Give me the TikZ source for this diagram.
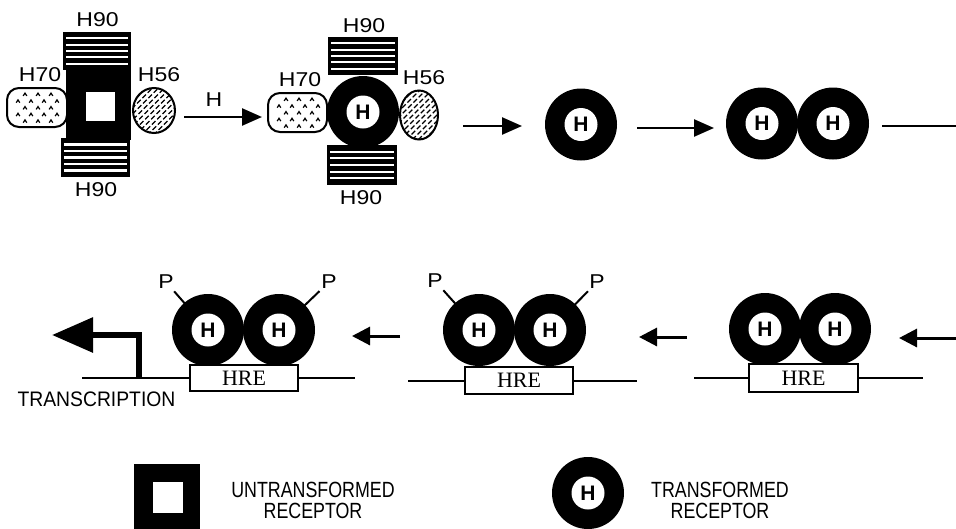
\documentclass[tikz,border=0pt]{standalone}
\usepackage{fontspec}
\setmainfont{Liberation Serif}
\setsansfont{Liberation Sans}
\usetikzlibrary{arrows.meta,shapes.geometric,calc}
\begin{document}
\begin{tikzpicture}[x=1pt,y=-1pt,
  lab/.style={font=\sffamily\fontsize{20}{20}\selectfont, inner sep=0pt, xscale=1.15},
  legtext/.style={font=\sffamily\fontsize{22}{21}\selectfont, inner sep=0pt, align=center, xscale=.81},
  h90/.style={rectangle, fill=black, inner sep=0pt, outer sep=0pt,
    path picture={\foreach \k in {1,...,5}{
      \draw[white,line width=2.2pt]
       ($(path picture bounding box.north west)!\k/6!(path picture bounding box.south west)+(3,0)$)
       -- ($(path picture bounding box.north east)!\k/6!(path picture bounding box.south east)+(-3,0)$);}}},
  h70/.style={rectangle, rounded corners=12pt, draw, line width=2pt, fill=white, inner sep=0pt,
    path picture={\foreach \px/\py in {18/6.5,31/6.5,44/6.5,11/13.3,24/13.3,37/13.3,50/13.3,
        18/20,31/20,44/20,11/26.7,24/26.7,37/26.7,50/26.7,18/33.3,31/33.3,44/33.3}{
      \draw[sharp corners, line width=1.2pt] ([shift={(\px,\py)}]path picture bounding box.north west)
        ++(-1.8,1.4) -- ++(1.8,-2.8) -- ++(1.8,2.8);}}},
  h56/.style={ellipse, draw, line width=2pt, fill=white, inner sep=0pt,
    path picture={\foreach \i in {-66,-60,...,66}{
      \draw[line width=1.3pt, dash pattern=on 5pt off 2.5pt]
        ([shift={(\i-30,30)}]path picture bounding box.center) -- ++(60,-60);}}},
  core/.style={rectangle, fill=black, inner sep=0pt, outer sep=0pt},
  hole/.style={rectangle, fill=white, inner sep=0pt, outer sep=0pt},
  rec/.style={circle, fill=black, minimum size=72pt, inner sep=0pt, outer sep=0pt,
    font=\sffamily\bfseries\fontsize{21}{21}\selectfont,
    path picture={\fill[white] (path picture bounding box.center) circle[radius=16.5pt];}},
  hre/.style={rectangle, draw, line width=2pt, fill=white, inner sep=0pt,
    font=\fontsize{22}{22}\selectfont},
  arrT/.style={line width=2.5pt, -{Triangle[length=20pt,width=17pt]}},
  arrB/.style={line width=3pt, -{Triangle[length=18pt,width=18pt]}},
  dna/.style={line width=2pt},
  tick/.style={line width=2pt, shorten <=3pt},
  trans/.style={line width=6pt, line join=miter, -{Triangle[length=41pt,width=34pt]}}
]
\useasboundingbox (0,0) rectangle (956,528);
\clip (0,0) rectangle (956,528);

% ---------- complex 1 (untransformed) ----------
\node[h70, minimum width=60, minimum height=39] (h70a) at (37,107.5) {};
\node[h56, minimum width=42, minimum height=45] (h56a) at (154,110.5) {};
\node[h90, minimum width=68, minimum height=38] (h90ta) at (97,51) {};
\node[h90, minimum width=69, minimum height=39] (h90ba) at (95.5,157.5) {};
\node[core, minimum width=65, minimum height=70] (core1) at (98.5,105) {};
\node[hole, minimum width=29, minimum height=29] (core1in) at (100.5,106.5) {};
\node[lab] (l90ta) at (97.5,20) {H90};
\node[lab] (l90ba) at (96,190) {H90};
\node[lab] (l70a) at (40,75) {H70};
\node[lab] (l56a) at (159,75) {H56};

% arrow with H
\coordinate (a1s) at (184,117);
\coordinate (a1e) at (262,117);
\draw[arrT] (a1s) -- (a1e);
\node[lab] (a1lab) at (214,100) {H};

% ---------- complex 2 ----------
\node[h70, minimum width=59, minimum height=39] (h70b) at (297.5,112.5) {};
\node[h56, minimum width=38, minimum height=49] (h56b) at (419,115) {};
\node[h90, minimum width=70, minimum height=38] (h90tb) at (363,56) {};
\node[h90, minimum width=70, minimum height=40] (h90bb) at (362,165) {};
\node[rec] (rb) at (363,112) {H};
\node[lab] (l90tb) at (364,26) {H90};
\node[lab] (l90bb) at (361,198) {H90};
\node[lab] (l70b) at (300,80) {H70};
\node[lab] (l56b) at (424,78) {H56};

% ---------- rest of top row ----------
\coordinate (a2s) at (463,126);
\coordinate (a2e) at (522,126);
\draw[arrT] (a2s) -- (a2e);
\node[rec] (r1) at (581,124.5) {H};
\coordinate (a3s) at (637,128);
\coordinate (a3e) at (714,128);
\draw[arrT] (a3s) -- (a3e);
\node[rec] (t1a) at (762,123.5) {H};
\node[rec] (t1b) at (833,123.5) {H};
\coordinate (l1s) at (882,126);
\coordinate (l1e) at (956,126);
\draw[line width=2.5pt] (l1s) -- (l1e);

% ---------- bottom row, right ----------
\coordinate (a4s) at (956,338);
\coordinate (a4e) at (899,338);
\draw[arrB] (a4s) -- (a4e);
\node[rec] (b3a) at (765,329) {H};
\node[rec] (b3b) at (835,329) {H};
\node[hre, minimum width=109, minimum height=28] (hre3) at (803.5,378) {HRE};
\coordinate (dna3l) at (694,378);
\coordinate (dna3r) at (923,378);
\draw[dna] (dna3l) -- (hre3.west);
\draw[dna] (hre3.east) -- (dna3r);

% ---------- bottom row, middle ----------
\coordinate (a5s) at (687,337);
\coordinate (a5e) at (639,337);
\draw[arrB] (a5s) -- (a5e);
\node[lab] (p2a) at (435,281) {P};
\node[lab] (p2b) at (597,282) {P};
\coordinate (b2ac) at (479,330);
\coordinate (b2bc) at (550,330);
\draw[tick] (p2a) -- (b2ac);
\draw[tick] (p2b) -- (b2bc);
\node[rec] (b2a) at (b2ac) {H};
\node[rec] (b2b) at (b2bc) {H};
\node[hre, minimum width=108, minimum height=27] (hre2) at (519,380.5) {HRE};
\coordinate (dna2l) at (408,380.5);
\coordinate (dna2r) at (637,380.5);
\draw[dna] (dna2l) -- (hre2.west);
\draw[dna] (hre2.east) -- (dna2r);

% ---------- bottom row, left ----------
\coordinate (a6s) at (400,336);
\coordinate (a6e) at (352,336);
\draw[arrB] (a6s) -- (a6e);
\node[lab] (p1a) at (166,282) {P};
\node[lab] (p1b) at (329,282) {P};
\coordinate (b1ac) at (208,330);
\coordinate (b1bc) at (279,330);
\draw[tick] (p1a) -- (b1ac);
\draw[tick] (p1b) -- (b1bc);
\node[rec] (b1a) at (b1ac) {H};
\node[rec] (b1b) at (b1bc) {H};
\node[hre, minimum width=108, minimum height=26] (hre1) at (244,378) {HRE};
\coordinate (dna1l) at (82,378);
\coordinate (dna1r) at (355,378);
\draw[dna] (dna1l) -- (hre1.west);
\draw[dna] (hre1.east) -- (dna1r);
\coordinate (tss) at (139,378);
\coordinate (ttip) at (52,335);
\draw[trans] (tss) |- (ttip);
\node[inner sep=0pt, font=\sffamily\fontsize{21}{21}\selectfont, xscale=.92] (trtext) at (96.5,399.5) {TRANSCRIPTION};

% ---------- legend ----------
\node[core, minimum width=66, minimum height=66] (lgsq) at (167,497) {};
\node[hole, minimum width=30, minimum height=31] (lgsqin) at (168,497.5) {};
\node[legtext] (lgt1) at (313,500) {UNTRANSFORMED\\RECEPTOR};
\node[rec] (lgc) at (588,493) {H};
\node[legtext] (lgt2) at (720,500) {TRANSFORMED\\RECEPTOR};
\end{tikzpicture}
\end{document}
